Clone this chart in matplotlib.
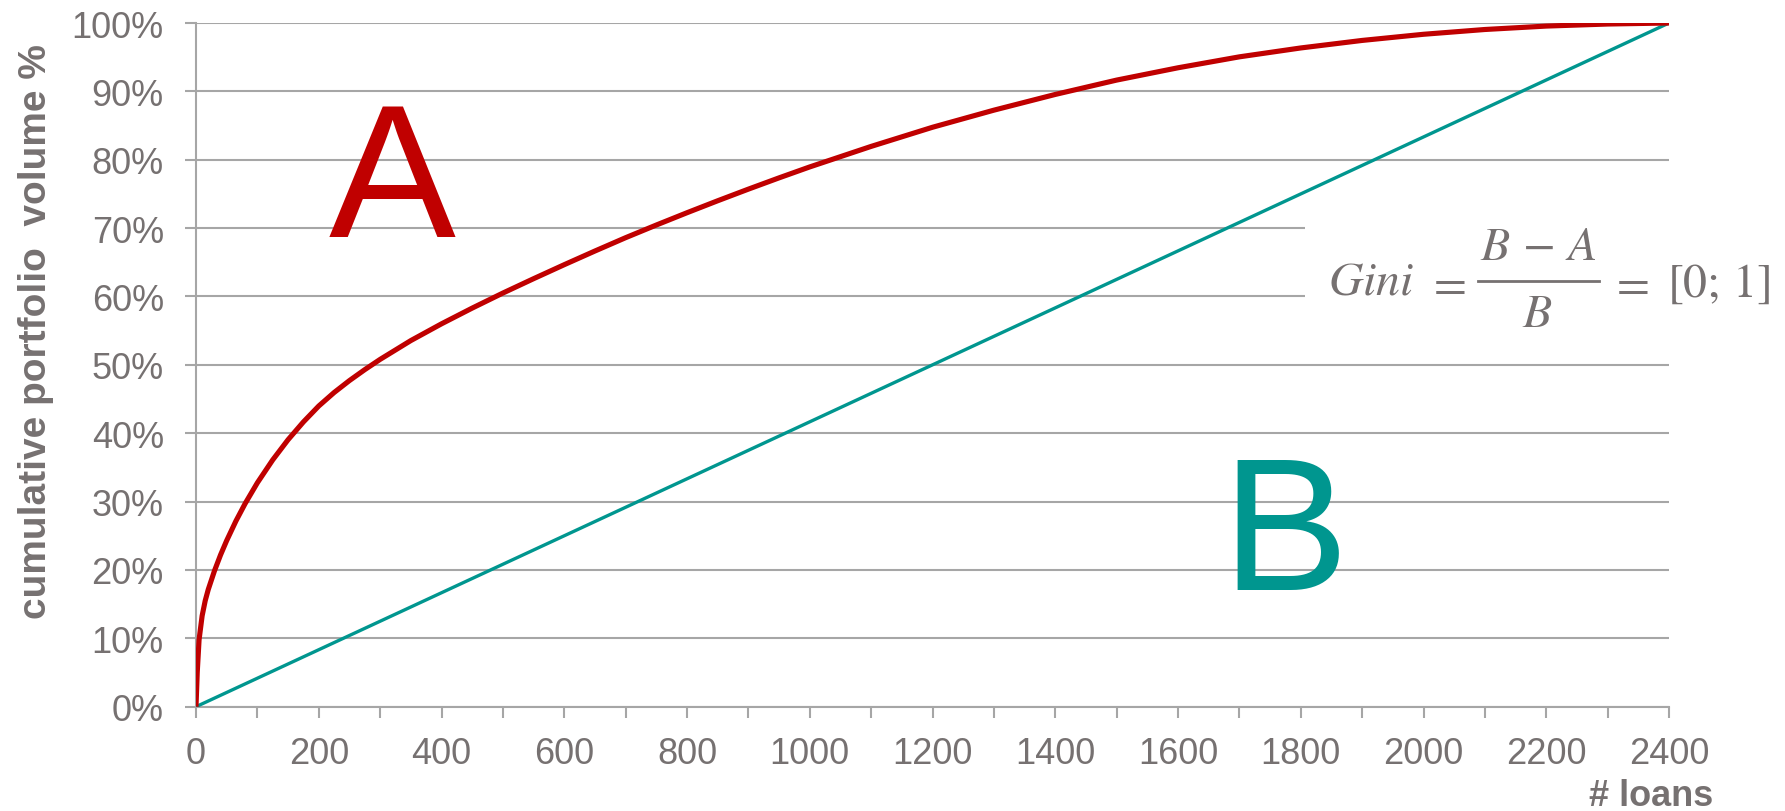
import matplotlib
matplotlib.use("Agg")
import matplotlib.pyplot as plt
from matplotlib.lines import Line2D
from matplotlib.patches import Rectangle
from matplotlib.ticker import MultipleLocator, FuncFormatter

# Cumulative share of portfolio volume vs. number of loans (sorted by size)
loans = [0, 2, 5, 10, 15, 20, 30, 40, 50, 65, 80, 100, 125, 150, 175, 200,
         225, 250, 275, 300, 350, 400, 450, 500, 550, 600, 650, 700, 750, 800,
         850, 900, 950, 1000, 1100, 1200, 1300, 1400, 1500, 1600, 1700, 1800,
         1900, 2000, 2100, 2200, 2300, 2400]
cum_volume = [0, 5.0, 9.8, 13.3, 15.5, 17.15, 19.85, 22.2, 24.3, 27.15, 29.7,
              32.75, 36.1, 39.05, 41.65, 43.98, 45.95, 47.7, 49.3, 50.8,
              53.55, 56.0, 58.3, 60.5, 62.6, 64.65, 66.65, 68.6, 70.45, 72.25,
              74.0, 75.7, 77.35, 78.95, 81.95, 84.75, 87.25, 89.55, 91.65,
              93.45, 95.05, 96.35, 97.45, 98.35, 99.05, 99.55, 99.85, 100.0]

# Line of perfect equality
equal_loans = [0, 2400]
equal_volume = [0, 100]

y_ticks = [0, 10, 20, 30, 40, 50, 60, 70, 80, 90, 100]

RED = "#C00000"
TEAL = "#00968F"
GRID = "#A6A6A6"
TEXT = "#767171"

plt.rcParams["font.family"] = ["Liberation Sans", "DejaVu Sans"]
plt.rcParams["mathtext.fontset"] = "stix"

W, H = 1785, 812
fig = plt.figure(figsize=(W / 100, H / 100), dpi=100)
ax = fig.add_axes([196 / W, 1 - 707.7 / H, (1669 - 196) / W, (707.7 - 24) / H])

ax.set_xlim(0, 2400)
ax.set_ylim(0, 100)

ax.set_yticks(y_ticks)
ax.yaxis.set_major_formatter(FuncFormatter(lambda v, p: f"{v:.0f}%"))
ax.xaxis.set_major_locator(MultipleLocator(200))
ax.xaxis.set_minor_locator(MultipleLocator(100))

ax.grid(axis="y", color=GRID, linewidth=1.5, zorder=0)
ax.set_axisbelow(True)

for s in ("top", "right"):
    ax.spines[s].set_visible(False)
for s in ("left", "bottom"):
    ax.spines[s].set_color(GRID)
    ax.spines[s].set_linewidth(1.5)

ax.tick_params(axis="y", which="major", length=8.2, width=1.5, color=GRID,
               labelsize=26, labelcolor=TEXT, pad=15)
ax.tick_params(axis="x", which="both", length=7.9, width=1.5, color=GRID,
               labelsize=26, labelcolor=TEXT, pad=13)

# White panel behind the formula
ax.add_patch(Rectangle((0.753, 0.53), 0.4, 0.22, transform=ax.transAxes,
                       facecolor="white", edgecolor="none", zorder=1,
                       clip_on=False))

ax.plot(equal_loans, equal_volume, color=TEAL, linewidth=2.4, zorder=3,
        solid_capstyle="butt")
ax.plot(loans, cum_volume, color=RED, linewidth=3.7, zorder=4,
        solid_joinstyle="round", solid_capstyle="butt")

ax.text(319, 68.9, "A", color=RED, fontsize=137, ha="center", va="baseline",
        zorder=5)
ax.text(1774, 17.2, "B", color=TEAL, fontsize=137, ha="center", va="baseline",
        zorder=5)


# Gini formula, assembled piece by piece (pixel positions on the figure)
def ftext(x, y, s, ha="left"):
    fig.text(x / W, 1 - y / H, s, color=TEXT, fontsize=34.5, ha=ha,
             va="baseline")


ftext(1328, 295, r"$Gini$")
ftext(1447, 298, r"$=$", ha="center")
ftext(1538, 260, r"$B\,-\,A$", ha="center")
ftext(1537, 327, r"$B$", ha="center")
ftext(1630, 298, r"$=$", ha="center")
ftext(1667, 297, r"$[0;\,1]$")
fig.add_artist(Line2D([1478 / W, 1599 / W], [1 - 281.7 / H, 1 - 281.7 / H],
                      color=TEXT, linewidth=2.0))

ax.set_ylabel("cumulative portfolio  volume %", fontsize=28, fontweight="bold",
              color=TEXT)
ax.yaxis.set_label_coords(-(196 - 54) / (1669 - 196), 0.55)

fig.text(1713 / W, 1 - 797 / H, "# loans", fontsize=26, fontweight="bold",
         color=TEXT, ha="right", va="center")

fig.savefig("out.png", dpi=100)
